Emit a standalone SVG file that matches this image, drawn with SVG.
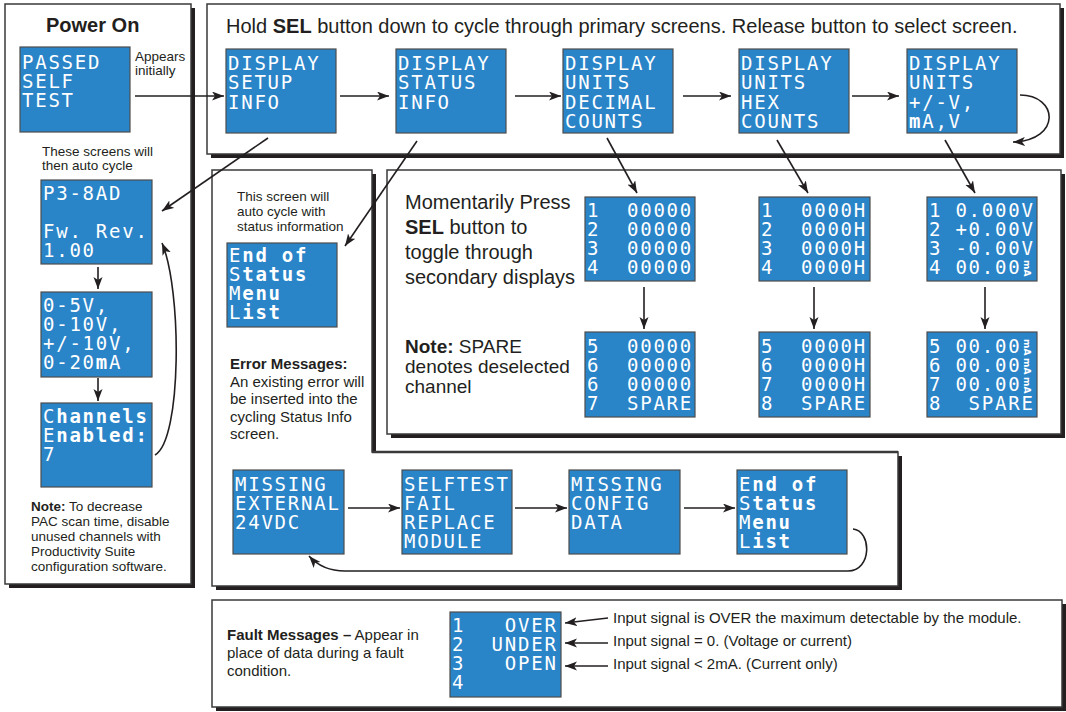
<svg xmlns="http://www.w3.org/2000/svg" width="1066" height="712" viewBox="0 0 1066 712">
<style>
.pnl{fill:#fff;stroke:#3a3a3a;stroke-width:1.5}
.shd{fill:#231f20}
.scr{fill:#2a84c8;stroke:#4d4d4d;stroke-width:1.2}
.lcd{font-family:"DejaVu Sans Mono",monospace;font-size:19px;fill:#fff;letter-spacing:1.76px}
.lcdb{font-family:"DejaVu Sans Mono",monospace;font-size:19px;fill:#fff;font-weight:bold;letter-spacing:1.76px}
.tiny{font-family:"DejaVu Sans",sans-serif;font-weight:bold;fill:#fff;font-size:9px}
.t{font-family:"Liberation Sans",Arial,sans-serif;fill:#231f20}
.s13{font-size:13.5px}
.s15{font-size:15px}
.s19{font-size:19px}
.s20{font-size:20px}
.b{font-weight:bold}
.n{font-weight:normal}
.con{fill:none;stroke:#231f20;stroke-width:1.6}
</style>
<defs>
<marker id="ah" markerUnits="userSpaceOnUse" markerWidth="13" markerHeight="10" refX="12" refY="4.5" orient="auto">
<path d="M0,0 L12,4.5 L0,9 L3,4.5 z" fill="#231f20"/>
</marker>
</defs>

<!-- panels -->
<g id="panels">
<rect class="shd" x="9" y="8" width="186" height="580"/>
<rect class="pnl" x="5" y="4" width="186" height="580"/>
<rect class="shd" x="211" y="8" width="853" height="150"/>
<rect class="pnl" x="207" y="4" width="853" height="150"/>
<polygon class="shd" points="216,174 376,174 376,456 902,456 902,590 216,590"/>
<polygon class="pnl" points="212,170 372,170 372,452 898,452 898,586 212,586"/>
<line x1="372" y1="452" x2="898" y2="452" stroke="#3a3a3a" stroke-width="2.5"/>
<rect class="shd" x="391" y="174" width="674" height="264"/>
<rect class="pnl" x="387" y="170" width="674" height="264"/>
<rect class="shd" x="216" y="604" width="850" height="107"/>
<rect class="pnl" x="212" y="600" width="850" height="107"/>
</g>

<!-- labels -->
<g id="labels">
<text class="t b s20" x="46" y="32">Power On</text>
<text class="t s13" x="135" y="61">Appears<tspan x="135" y="75">initially</tspan></text>
<text class="t s13" x="42" y="156">These screens will<tspan x="42" y="170">then auto cycle</tspan></text>
<text class="t s13" x="31" y="511"><tspan class="b">Note:</tspan> To decrease<tspan x="31" y="526">PAC scan time, disable</tspan><tspan x="31" y="541">unused channels with</tspan><tspan x="31" y="556">Productivity Suite</tspan><tspan x="31" y="571">configuration software.</tspan></text>
<text class="t s20" x="226" y="33">Hold <tspan class="b">SEL</tspan> button down to cycle through primary screens. Release button to select screen.</text>
<text class="t s13" x="237" y="201">This screen will<tspan x="237" y="216">auto cycle with</tspan><tspan x="237" y="231">status information</tspan></text>
<text class="t s15" x="230" y="369"><tspan class="b">Error Messages:</tspan><tspan x="230" y="387">An existing error will</tspan><tspan x="230" y="404">be inserted into the</tspan><tspan x="230" y="421.5">cycling Status Info</tspan><tspan x="230" y="439">screen.</tspan></text>
<text class="t s20" x="405" y="209">Momentarily Press<tspan x="405" y="234" class="b">SEL</tspan> button to<tspan x="405" y="259">toggle through</tspan><tspan x="405" y="284">secondary displays</tspan></text>
<text class="t s19" x="405" y="353"><tspan class="b">Note:</tspan> SPARE<tspan x="405" y="373">denotes deselected</tspan><tspan x="405" y="393">channel</tspan></text>
<text class="t s15" x="227" y="640"><tspan class="b">Fault Messages –</tspan> Appear in<tspan x="227" y="658">place of data during a fault</tspan><tspan x="227" y="676">condition.</tspan></text>
<text class="t s15" x="613" y="623">Input signal is OVER the maximum detectable by the module.</text>
<text class="t s15" x="613" y="646">Input signal = 0. (Voltage or current)</text>
<text class="t s15" x="613" y="669">Input signal &lt; 2mA. (Current only)</text>
</g>

<!-- Power On screens -->
<g id="passed"><rect class="scr" x="20" y="47" width="110" height="85"/>
<text class="lcd" x="22" y="69">PASSED<tspan x="22" y="88">SELF</tspan><tspan x="22" y="107">TEST</tspan></text></g>
<g id="p3"><rect class="scr" x="41" y="180" width="111" height="84"/>
<text class="lcd" x="43" y="200">P3-8AD<tspan x="43" y="238">Fw. Rev.</tspan><tspan x="43" y="257">1.00</tspan></text></g>
<g id="ranges"><rect class="scr" x="41" y="292" width="111" height="85"/>
<text class="lcd" x="43" y="312">0-5V,<tspan x="43" y="331">0-10V,</tspan><tspan x="43" y="350">+/-10V,</tspan><tspan x="43" y="369">0-20<tspan class="b">m</tspan>A</tspan></text></g>
<g id="channels"><rect class="scr" x="41" y="403" width="111" height="84"/>
<text class="lcdb" x="43" y="423"><tspan class="n">C</tspan>hannels<tspan x="43" y="442"><tspan class="n">E</tspan>nabled:</tspan><tspan x="43" y="461" class="n">7</tspan></text></g>

<!-- primary row -->
<g id="setup"><rect class="scr" x="226" y="49" width="110" height="84"/>
<text class="lcd" x="228" y="70">DISPLAY<tspan x="228" y="89">SETUP</tspan><tspan x="228" y="109">INFO</tspan></text></g>
<g id="status"><rect class="scr" x="396" y="49" width="110" height="84"/>
<text class="lcd" x="398" y="70">DISPLAY<tspan x="398" y="89">STATUS</tspan><tspan x="398" y="109">INFO</tspan></text></g>
<g id="decimal"><rect class="scr" x="563" y="49" width="110" height="84"/>
<text class="lcd" x="565" y="70">DISPLAY<tspan x="565" y="89">UNITS</tspan><tspan x="565" y="109">DECIMAL</tspan><tspan x="565" y="128">COUNTS</tspan></text></g>
<g id="hex"><rect class="scr" x="739" y="49" width="110" height="84"/>
<text class="lcd" x="741" y="70">DISPLAY<tspan x="741" y="89">UNITS</tspan><tspan x="741" y="109">HEX</tspan><tspan x="741" y="128">COUNTS</tspan></text></g>
<g id="volts"><rect class="scr" x="907" y="49" width="110" height="84"/>
<text class="lcd" x="909" y="70">DISPLAY<tspan x="909" y="89">UNITS</tspan><tspan x="909" y="109">+/-V,</tspan><tspan x="909" y="128"><tspan class="b">m</tspan>A,V</tspan></text></g>

<!-- status end screen -->
<g id="endstatus1"><rect class="scr" x="227" y="243" width="110" height="84"/>
<text class="lcdb" x="229" y="262"><tspan class="n">E</tspan>nd of<tspan x="229" y="281"><tspan class="n">S</tspan>tatus</tspan><tspan x="229" y="300"><tspan class="n">M</tspan>enu</tspan><tspan x="229" y="319"><tspan class="n">L</tspan>ist</tspan></text></g>

<!-- secondary screens -->
<g id="dec1"><rect class="scr" x="585" y="197" width="110" height="84"/>
<text class="lcd" x="587" y="217">1<tspan x="627">00000</tspan><tspan x="587" y="236">2</tspan><tspan x="627">00000</tspan><tspan x="587" y="255">3</tspan><tspan x="627">00000</tspan><tspan x="587" y="274">4</tspan><tspan x="627">00000</tspan></text></g>
<g id="dec2"><rect class="scr" x="585" y="332" width="110" height="85"/>
<text class="lcd" x="587" y="353">5<tspan x="627">00000</tspan><tspan x="587" y="372">6</tspan><tspan x="627">00000</tspan><tspan x="587" y="391">6</tspan><tspan x="627">00000</tspan><tspan x="587" y="410">7</tspan><tspan x="627">SPARE</tspan></text></g>
<g id="hex1"><rect class="scr" x="759" y="197" width="111" height="84"/>
<text class="lcd" x="761" y="217">1<tspan x="801">0000H</tspan><tspan x="761" y="236">2</tspan><tspan x="801">0000H</tspan><tspan x="761" y="255">3</tspan><tspan x="801">0000H</tspan><tspan x="761" y="274">4</tspan><tspan x="801">0000H</tspan></text></g>
<g id="hex2"><rect class="scr" x="759" y="332" width="111" height="85"/>
<text class="lcd" x="761" y="353">5<tspan x="801">0000H</tspan><tspan x="761" y="372">6</tspan><tspan x="801">0000H</tspan><tspan x="761" y="391">7</tspan><tspan x="801">0000H</tspan><tspan x="761" y="410">8</tspan><tspan x="801">SPARE</tspan></text></g>
<g id="volt1"><rect class="scr" x="927" y="197" width="110" height="84"/>
<text class="lcd" x="929" y="217">1<tspan x="955.4">0.000V</tspan><tspan x="929" y="236">2</tspan><tspan x="955.4">+0.00V</tspan><tspan x="929" y="255">3</tspan><tspan x="955.4">-0.00V</tspan><tspan x="929" y="274">4</tspan><tspan x="955.4">00.00</tspan></text>
<text class="tiny" transform="translate(1024,260) rotate(90)">mA</text></g>
<g id="volt2"><rect class="scr" x="927" y="332" width="110" height="85"/>
<text class="lcd" x="929" y="353">5<tspan x="955.4">00.00</tspan><tspan x="929" y="372">6</tspan><tspan x="955.4">00.00</tspan><tspan x="929" y="391">7</tspan><tspan x="955.4">00.00</tspan><tspan x="929" y="410">8</tspan><tspan x="968.6">SPARE</tspan></text>
<text class="tiny" transform="translate(1024,339) rotate(90)">mA</text>
<text class="tiny" transform="translate(1024,358) rotate(90)">mA</text>
<text class="tiny" transform="translate(1024,377) rotate(90)">mA</text></g>

<!-- error row -->
<g id="err24"><rect class="scr" x="233" y="470" width="111" height="84"/>
<text class="lcd" x="235" y="491">MISSING<tspan x="235" y="510">EXTERNAL</tspan><tspan x="235" y="529">24VDC</tspan></text></g>
<g id="errself"><rect class="scr" x="402" y="470" width="110" height="84"/>
<text class="lcd" x="404" y="491">SELFTEST<tspan x="404" y="510">FAIL</tspan><tspan x="404" y="529">REPLACE</tspan><tspan x="404" y="548">MODULE</tspan></text></g>
<g id="errcfg"><rect class="scr" x="569" y="470" width="111" height="84"/>
<text class="lcd" x="571" y="491">MISSING<tspan x="571" y="510">CONFIG</tspan><tspan x="571" y="529">DATA</tspan></text></g>
<g id="endstatus2"><rect class="scr" x="737" y="470" width="110" height="84"/>
<text class="lcdb" x="739" y="491"><tspan class="n">E</tspan>nd of<tspan x="739" y="510"><tspan class="n">S</tspan>tatus</tspan><tspan x="739" y="529"><tspan class="n">M</tspan>enu</tspan><tspan x="739" y="548"><tspan class="n">L</tspan>ist</tspan></text></g>

<!-- fault screen -->
<g id="fault"><rect class="scr" x="450" y="612" width="111" height="85"/>
<text class="lcd" x="452" y="632">1<tspan x="504.8">OVER</tspan><tspan x="452" y="651">2</tspan><tspan x="491.6">UNDER</tspan><tspan x="452" y="670">3</tspan><tspan x="504.8">OPEN</tspan><tspan x="452" y="689">4</tspan></text></g>

<!-- connectors -->
<g id="connectors" class="con" marker-end="url(#ah)">
<path d="M135,96 L224,96"/>
<path d="M340,96 L389,96"/>
<path d="M515,96 L561,96"/>
<path d="M683,96 L731,96"/>
<path d="M852,96 L899,96"/>
<path d="M1020,95 C1058,95 1062,140 1013,142"/>
<path d="M268,138 L162,211"/>
<path d="M417,141 L345,246"/>
<path d="M607,138 L637,193"/>
<path d="M777,140 L808,193"/>
<path d="M945,140 L975,193"/>
<path d="M644,287 L644,329"/>
<path d="M814,287 L814,329"/>
<path d="M985,287 L985,329"/>
<path d="M98,267 L98,289"/>
<path d="M98,378 L98,401"/>
<path d="M155,455 C182,440 182,290 162,243"/>
<path d="M348,508 L400,508"/>
<path d="M515,508 L567,508"/>
<path d="M684,508 L735,508"/>
<path d="M853,529 C872,531 872,571 848,571 L345,571 C330,571 318,566 309,556"/>
<path d="M608,618 L565,623"/>
<path d="M608,643 L565,643"/>
<path d="M608,666 L565,666"/>
</g>
</svg>
